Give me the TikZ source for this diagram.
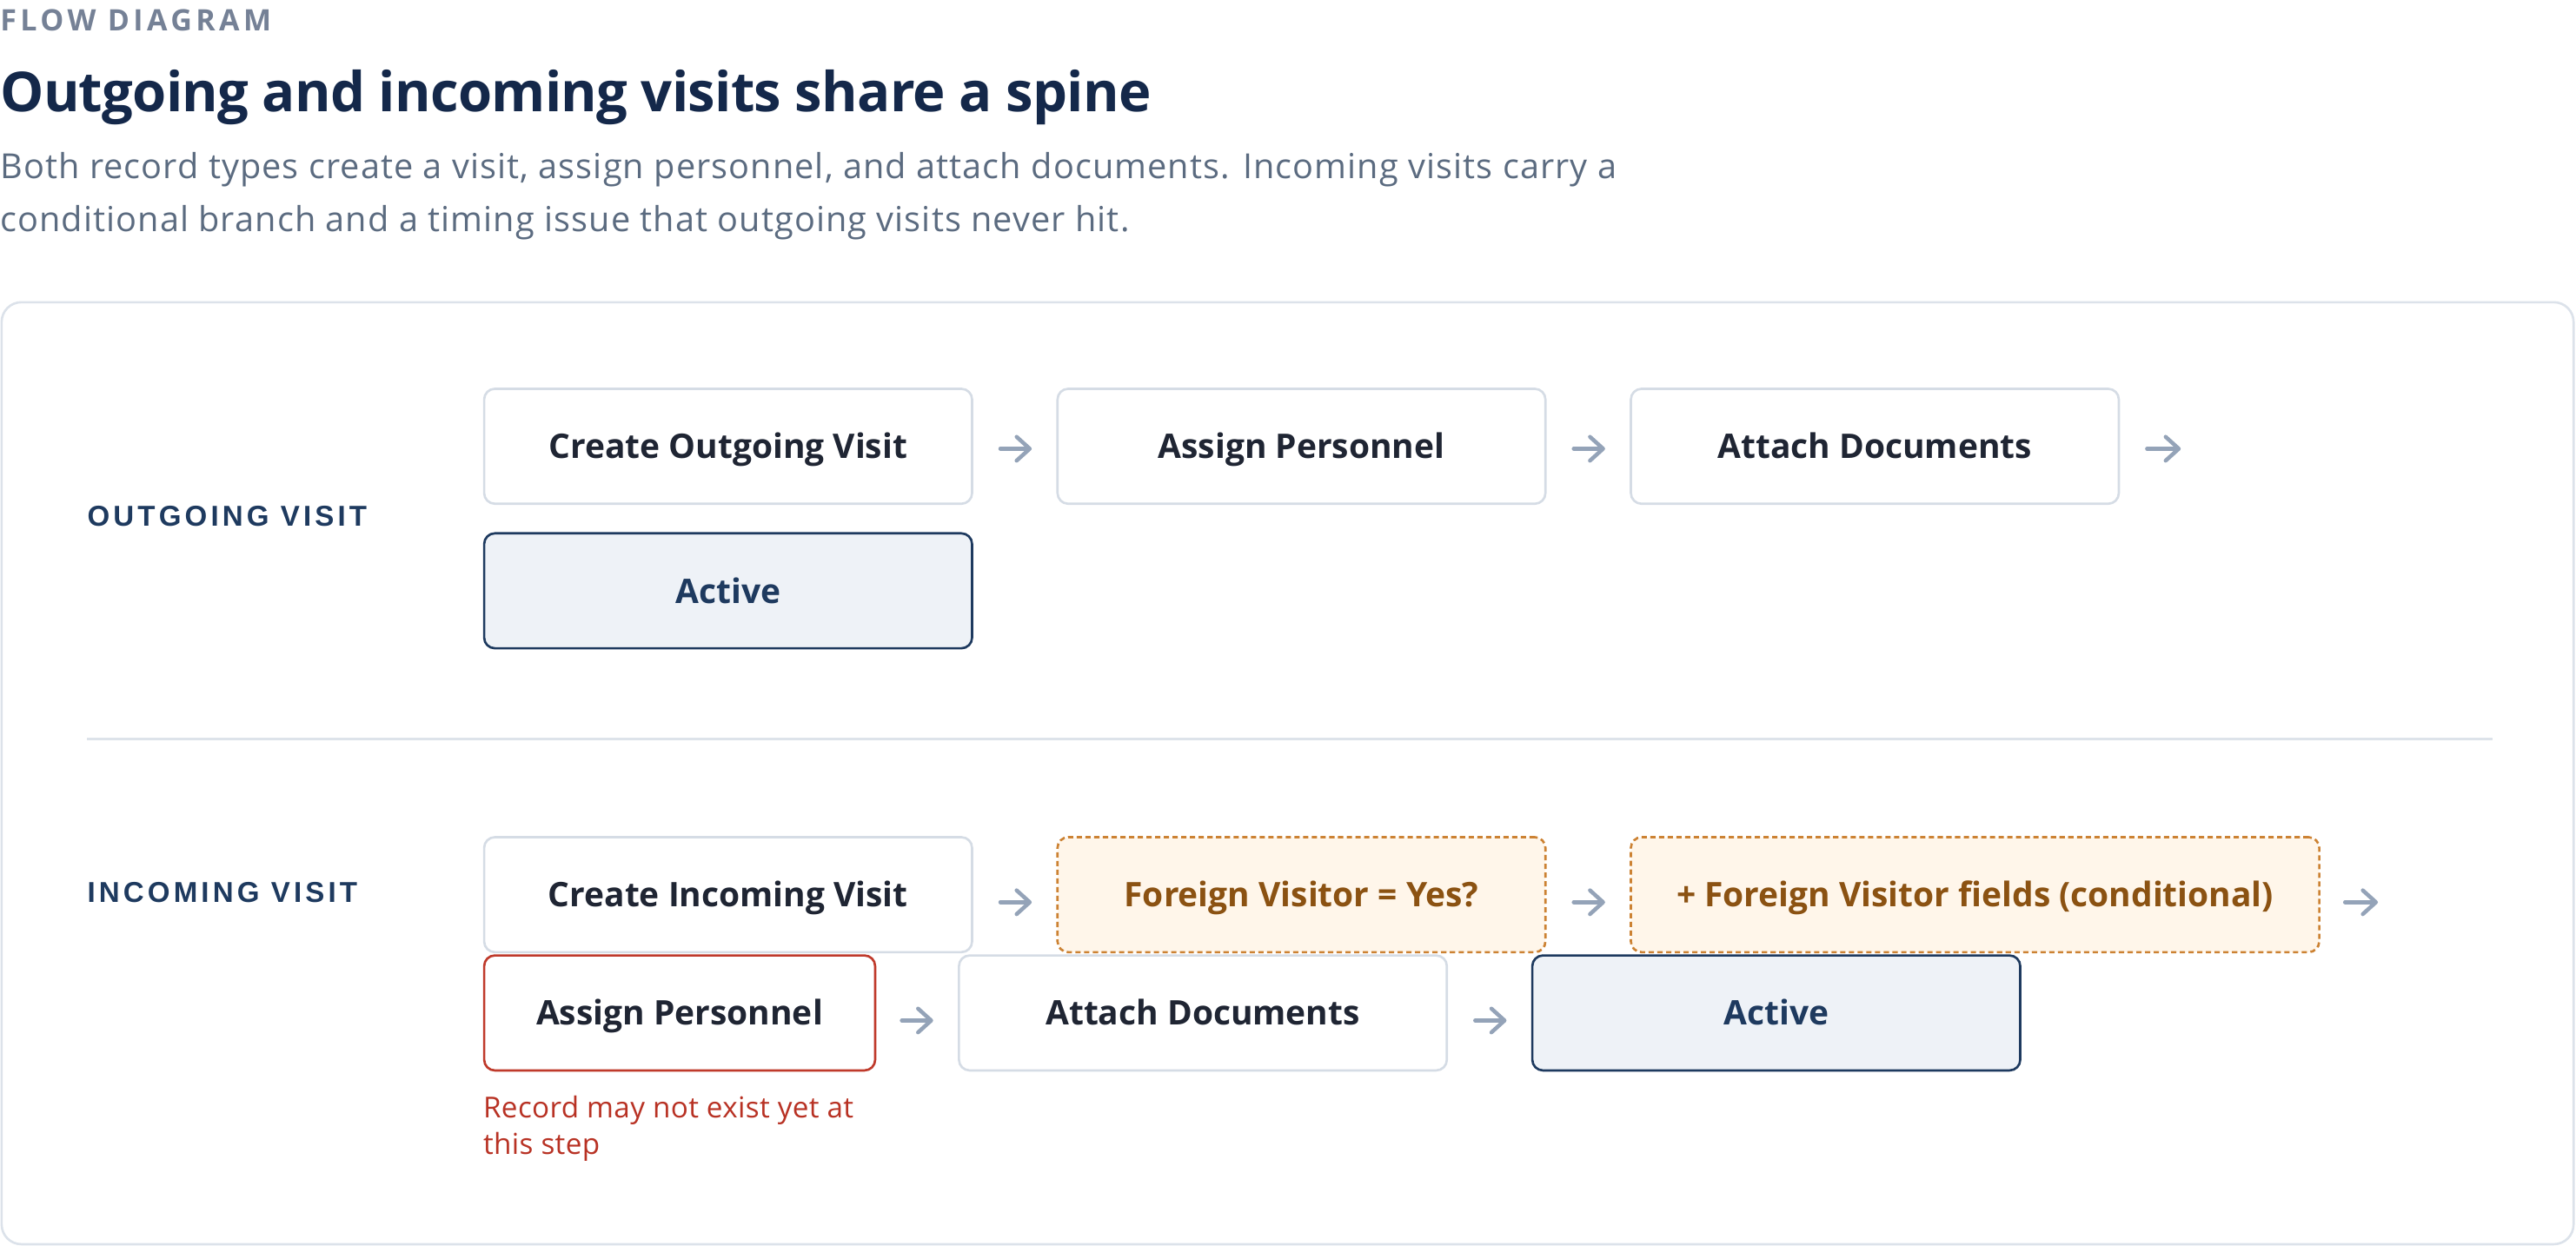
\documentclass[tikz,border=0pt]{standalone}
\usepackage{fontspec}
\setmainfont{Open Sans}
\newfontfamily\labelfamily[LetterSpace=12.5]{Liberation Sans}
\newfontfamily\kickerfamily[LetterSpace=13]{Open Sans}
\newfontfamily\titlefamily[LetterSpace=-1.2]{Open Sans}
\newfontfamily\parafamily[LetterSpace=2.7]{Open Sans}
\newfontfamily\notefamily[LetterSpace=1]{Open Sans}
\usetikzlibrary{arrows.meta}
\definecolor{boxgray}{HTML}{D5DCE5}
\definecolor{cardgray}{HTML}{DCE2EA}
\definecolor{sepgray}{HTML}{DDE3EA}
\definecolor{arrowgray}{HTML}{94A3B8}
\definecolor{navy}{HTML}{1E3A5F}
\definecolor{activefill}{HTML}{EEF2F7}
\definecolor{condborder}{HTML}{CC8233}
\definecolor{condfill}{HTML}{FFF6EA}
\definecolor{condtext}{HTML}{8B5212}
\definecolor{warnborder}{HTML}{BF3A2B}
\definecolor{warntext}{HTML}{B83224}
\definecolor{boxtext}{HTML}{1F2533}
\definecolor{titlecol}{HTML}{14284A}
\definecolor{subcol}{HTML}{5B6B80}
\definecolor{kickcol}{HTML}{758196}
\tikzset{
  stepbox/.style={draw=boxgray, line width=1.4pt, rounded corners=6.5pt, fill=white,
    minimum height=70pt, inner sep=0pt, anchor=north west, text=boxtext,
    font=\fontsize{20.6}{25}\selectfont\bfseries, text height=15pt, text depth=0pt},
  activebox/.style={stepbox, draw=navy, fill=activefill, text=navy},
  condbox/.style={stepbox, draw=condborder, fill=condfill, text=condtext,
    dash pattern=on 3.2pt off 2.1pt},
  warnbox/.style={stepbox, draw=warnborder},
  arr/.style={draw=arrowgray, line width=2.4pt, line cap=round,
    -{Straight Barb[length=8pt,width=14.5pt,round]}},
  rowlabel/.style={anchor=base west, inner sep=0pt, text=navy,
    font=\labelfamily\fontsize{17.5}{21}\selectfont\bfseries},
  para/.style={anchor=base west, inner sep=0pt, text=subcol,
    font=\parafamily\fontsize{21}{25}\selectfont},
  note/.style={anchor=base west, inner sep=0pt, text=warntext,
    font=\notefamily\fontsize{17.6}{21}\selectfont},
}
\begin{document}
\begin{tikzpicture}[x=1pt,y=-1pt]
\useasboundingbox (0,0) rectangle (1568,758.6);
% header
\node[anchor=base west, inner sep=0pt, text=kickcol,
  font=\kickerfamily\fontsize{18}{21}\selectfont\bfseries] (kicker) at (0,18.9) {FLOW DIAGRAM};
\node[anchor=base west, inner sep=0pt, text=titlecol,
  font=\titlefamily\fontsize{33.5}{40}\selectfont\bfseries] (title) at (0,67.9) {Outgoing and incoming visits share a spine};
\node[para] (sub1) at (0,108.5) {Both record types create a visit, assign personnel, and attach documents. Incoming visits carry a};
\node[para] (sub2) at (0,141.1) {conditional branch and a timing issue that outgoing visits never hit.};
% card
\draw[cardgray, line width=1.4pt, rounded corners=12pt] (1,184) rectangle (1566.5,757.5);
\draw[sepgray, line width=1.4pt] (53,450) -- (1517,450);
% labels
\node[rowlabel] (lout) at (53,320.5) {OUTGOING VISIT};
\node[rowlabel] (linc) at (53,549.5) {INCOMING VISIT};
% outgoing row
\node[stepbox, minimum width=297pt] (o1) at (294,236) {Create Outgoing Visit};
\node[stepbox, minimum width=297pt] (o2) at (643,236) {Assign Personnel};
\node[stepbox, minimum width=297pt] (o3) at (992,236) {Attach Documents};
\node[activebox, minimum width=297pt] (o4) at (294,324) {Active};
\coordinate (o3end) at ([shift={(37,1.5)}]o3.east);
\draw[arr] ([shift={(16.5,1.5)}]o1.east) -- ([shift={(-15,1.5)}]o2.west);
\draw[arr] ([shift={(16.5,1.5)}]o2.east) -- ([shift={(-15,1.5)}]o3.west);
\draw[arr] ([shift={(16.5,1.5)}]o3.east) -- (o3end);
% incoming row
\node[stepbox, minimum width=297pt] (i1) at (294,509) {Create Incoming Visit};
\node[condbox, minimum width=297pt] (i2) at (643,509) {Foreign Visitor = Yes?};
\node[condbox, minimum width=419pt] (i3) at (992,509) {+ Foreign Visitor fields (conditional)};
\node[warnbox, minimum width=238pt] (i4) at (294,581) {Assign Personnel};
\node[stepbox, minimum width=297pt] (i5) at (583,581) {Attach Documents};
\node[activebox, minimum width=297pt] (i6) at (932,581) {Active};
\coordinate (i3end) at ([shift={(35,4.6)}]i3.east);
\draw[arr] ([shift={(16.5,4.6)}]i1.east) -- ([shift={(-15,4.6)}]i2.west);
\draw[arr] ([shift={(16.5,4.6)}]i2.east) -- ([shift={(-15,4.6)}]i3.west);
\draw[arr] ([shift={(15,4.6)}]i3.east) -- (i3end);
\draw[arr] ([shift={(15.5,4.6)}]i4.east) -- ([shift={(-15,4.6)}]i5.west);
\draw[arr] ([shift={(16.5,4.6)}]i5.east) -- ([shift={(-15,4.6)}]i6.west);
% note
\node[note] (n1) at (294,680.7) {Record may not exist yet at};
\node[note] (n2) at (294,702.6) {this step};
\end{tikzpicture}
\end{document}
